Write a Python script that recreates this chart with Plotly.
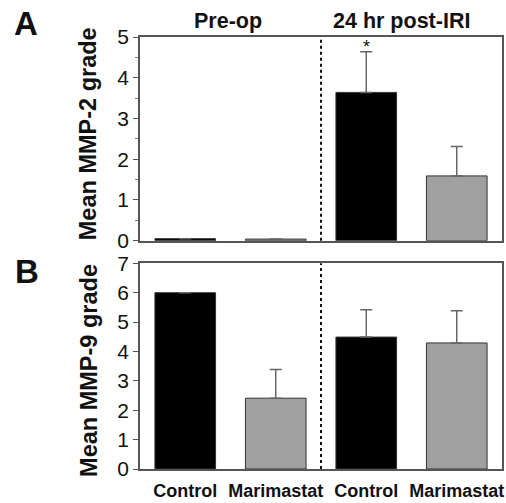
import plotly.graph_objects as go
from plotly.subplots import make_subplots

groups = ["Control", "Marimastat", "Control", "Marimastat"]
phases = ["Pre-op", "24 hr post-IRI"]
mmp2_mean = [0.05, 0.04, 3.64, 1.59]
mmp2_err = [0, 0, 1.0, 0.72]
mmp9_mean = [6.0, 2.41, 4.49, 4.29]
mmp9_err = [0, 0.98, 0.93, 1.1]
bar_colors = ["#000000", "#a0a0a0", "#000000", "#a0a0a0"]
sig_index = 2

xpos = list(range(len(groups)))
FONT = "Liberation Sans, Arial, sans-serif"

W, H = 506, 503
L, T, R, B = 140, 37, 2, 27
PW, PH = W - L - R, H - T - B


def px(x):  # page x pixel -> paper coordinate
    return (x - L) / PW


def py(y):  # page y pixel -> paper coordinate
    return (H - B - y) / PH


fig = make_subplots(rows=2, cols=1, shared_xaxes=False, vertical_spacing=0.05)

for row, (vals, errs) in enumerate([(mmp2_mean, mmp2_err), (mmp9_mean, mmp9_err)], start=1):
    fig.add_trace(go.Bar(
        x=xpos, y=vals, width=0.67,
        marker=dict(color=bar_colors, line=dict(color="#333333", width=1)),
        error_y=dict(type="data", symmetric=False, array=errs, arrayminus=[0] * len(errs),
                     color="#666666", thickness=1.5, width=6, visible=True),
        showlegend=False, hoverinfo="skip",
    ), row=row, col=1)

axis_common = dict(showline=True, linecolor="#555555", linewidth=1.5, mirror=True,
                   showgrid=False, zeroline=False)

fig.update_xaxes(range=[-0.5, 3.5], tickvals=xpos, ticktext=groups, ticks="",
                 ticklabelstandoff=5, ticklabeloverflow="allow",
                 tickfont=dict(family=FONT, size=18, color="#111111", weight="bold"),
                 **axis_common)
fig.update_xaxes(showticklabels=False, row=1, col=1)

fig.update_yaxes(range=[0, 5], dtick=1, ticks="outside", ticklen=5, tickcolor="#555555",
                 tickfont=dict(family=FONT, size=21, color="#111111"),
                 minor=dict(dtick=0.5, ticks="outside", ticklen=3, tickcolor="#777777"),
                 row=1, col=1, **axis_common)
fig.update_yaxes(range=[0, 7], dtick=1, ticks="outside", ticklen=5, tickcolor="#555555",
                 tickfont=dict(family=FONT, size=21, color="#111111"),
                 row=2, col=1, **axis_common)

fig.update_layout(
    width=W, height=H,
    margin=dict(l=L, r=R, t=T, b=B),
    plot_bgcolor="white", paper_bgcolor="white",
    xaxis=dict(domain=[0, 1]),
    yaxis=dict(domain=[py(244), 1.0]),
    yaxis2=dict(domain=[0.0, py(267)]),
)

# dashed separators between pre-op and post-IRI
for xr, yr in [("x", "y domain"), ("x2", "y2 domain")]:
    fig.add_shape(type="line", xref=xr, yref=yr, x0=1.5, x1=1.5, y0=0, y1=1,
                  line=dict(color="#111111", width=2, dash="dot"))

# significance asterisk
fig.add_annotation(x=sig_index, y=mmp2_mean[sig_index] + mmp2_err[sig_index], xref="x", yref="y",
                   text="*", showarrow=False, yshift=5, yanchor="middle",
                   font=dict(family=FONT, size=18, color="#111111"))

# phase headers
for ph, xc in zip(phases, [228, 403]):
    fig.add_annotation(x=px(xc), y=py(21), xref="paper", yref="paper",
                       text=f"<b>{ph}</b>", showarrow=False, xanchor="center", yanchor="middle",
                       font=dict(family=FONT, size=21.5, color="#111111"))

# panel letters
fig.add_annotation(x=px(25), y=py(23), xref="paper", yref="paper", text="<b>A</b>",
                   showarrow=False, xanchor="center", yanchor="middle",
                   font=dict(family=FONT, size=33, color="#111111"))
fig.add_annotation(x=px(26), y=py(275.5), xref="paper", yref="paper", text="<b>B</b>",
                   showarrow=False, xanchor="center", yanchor="middle",
                   font=dict(family=FONT, size=33, color="#111111"))

# y-axis titles
fig.add_annotation(x=px(88), y=py(135.5), xref="paper", yref="paper", text="<b>Mean MMP-2 grade</b>",
                   textangle=-90, showarrow=False, xanchor="center", yanchor="middle",
                   font=dict(family=FONT, size=23.5, color="#111111"))
fig.add_annotation(x=px(88), y=py(376), xref="paper", yref="paper", text="<b>Mean MMP-9 grade</b>",
                   textangle=-90, showarrow=False, xanchor="center", yanchor="middle",
                   font=dict(family=FONT, size=23.5, color="#111111"))

fig.write_html("out.html", config={"displayModeBar": False},
               post_script="document.body.style.margin='0';document.body.style.overflow='hidden';")
